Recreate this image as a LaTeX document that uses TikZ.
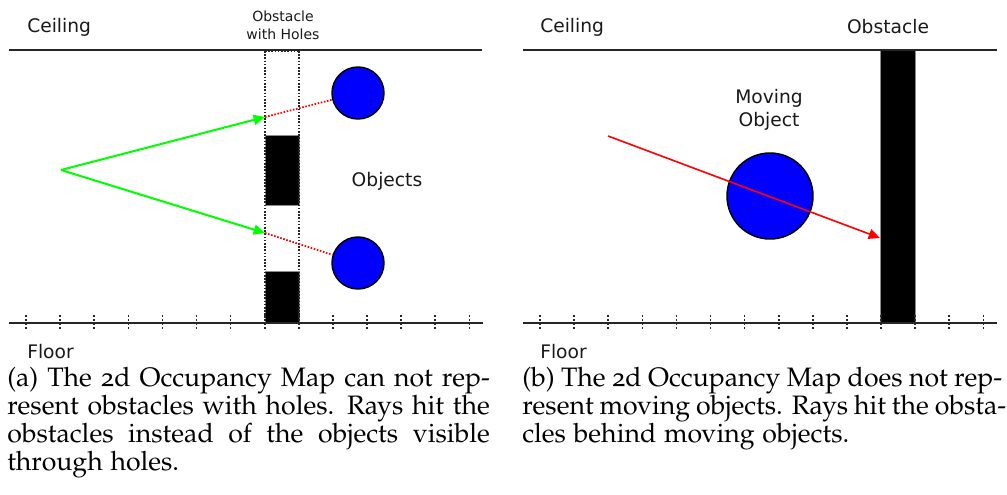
\documentclass[tikz,border=0pt]{standalone}
\usepackage[T1]{fontenc}
\usepackage{fontspec}
\usetikzlibrary{arrows.meta}
\newfontfamily\labelfont{DejaVu Sans}
\newcommand\capfont{\fontencoding{T1}\fontfamily{pplj}\selectfont}
\definecolor{rayred}{RGB}{255,0,0}
\definecolor{raygreen}{RGB}{0,255,0}
\definecolor{objblue}{RGB}{0,0,255}
\begin{document}
\begin{tikzpicture}[x=0.75pt,y=-0.75pt,
  lbl/.style={font=\labelfont\fontsize{14}{17}\selectfont, inner sep=0pt, text=black!90},
  smalllbl/.style={font=\labelfont\fontsize{10.5}{13.5}\selectfont, inner sep=0pt, align=center, text=black!90},
  wall/.style={line width=1.3pt, black!85},
  tickmark/.style={line width=1.2pt, black!85, dash pattern=on 1.5pt off 1.5pt},
  holecol/.style={line width=1.3pt, black!85, dash pattern=on 1.2pt off 1.2pt},
  block/.style={fill=black, draw=black!45, line width=0.6pt},
  obj/.style={circle, draw=black, fill=objblue, line width=1.1pt, inner sep=0pt},
  greenray/.style={line width=1.5pt, raygreen, -{Triangle[length=8.5pt,width=7.5pt]}},
  reddot/.style={line width=1.3pt, rayred, dash pattern=on 1.2pt off 1.2pt},
  redray/.style={line width=1.2pt, rayred, -{Triangle[length=8.5pt,width=7.5pt]}},
  captext/.style={font=\capfont\fontsize{20}{21}\selectfont, inner sep=0pt, align=left}]
\useasboundingbox (0,0) rectangle (1007,494);
% ---------------- left panel ----------------
\node[lbl, anchor=west] (ceilA) at (27,27) {Ceiling};
\node[smalllbl] (obsA) at (283,25) {Obstacle\\with Holes};
\draw[block] (265,135) rectangle (299,205);
\draw[block] (265,271) rectangle (299,323);
\draw[holecol] (265,51) -- (265,323) (299,51) -- (299,323) (265,51) -- (299,51);
\draw[wall] (9,50) -- (482,50);
\draw[wall] (9,323) -- (483,323);
\foreach \i in {0,...,13} \draw[tickmark] ({26+34.1*\i},315) -- ({26+34.1*\i},331);
\node[lbl, anchor=west] (floorA) at (27,352) {Floor};
\node[obj, minimum size=39pt] (o1) at (358,93) {};
\node[obj, minimum size=39pt] (o2) at (358,263) {};
\node[lbl] (objs) at (387,181) {Objects};
\coordinate (src) at (61,170);
\coordinate (h1) at (265,117);
\coordinate (h2) at (265,233);
\draw[reddot] (h1) -- (o1);
\draw[reddot] (h2) -- (o2);
\draw[greenray] (src) -- (h1);
\draw[greenray] (src) -- (h2);
% ---------------- right panel ----------------
\node[lbl, anchor=west] (ceilB) at (540,27) {Ceiling};
\node[lbl] (obsB) at (888,27) {Obstacle};
\draw[block] (880,50) rectangle (915,323);
\draw[wall] (523,50) -- (997,50);
\draw[wall] (523,323) -- (997,323);
\foreach \i in {0,...,13} \draw[tickmark] ({540+34.1*\i},315) -- ({540+34.1*\i},331);
\node[lbl, anchor=west] (floorB) at (540,352) {Floor};
\node[lbl, align=center, font=\labelfont\fontsize{14}{17.25}\selectfont] (mlbl) at (769,110) {Moving\\Object};
\node[obj, minimum size=64.5pt] (mo) at (770,196) {};
\coordinate (rs) at (608,136);
\coordinate (rh) at (880,238);
\draw[redray] (rs) -- (rh);
% ---------------- captions ----------------
\node[captext, anchor=base west] (capA) at (7,470) {%
\makebox[362pt][s]{(a) The 2d Occupancy Map can not rep-}\\
\makebox[362pt][s]{resent obstacles with holes. Rays hit the}\\
\makebox[362pt][s]{obstacles instead of the objects visible}\\
through holes.};
\node[captext, anchor=base west] (capB) at (522,442) {%
\makebox[360pt][s]{(b) The 2d Occupancy Map does not rep-}\\
\makebox[360pt][s]{resent moving objects. Rays hit the obsta-}\\
cles behind moving objects.};
\end{tikzpicture}
\end{document}
